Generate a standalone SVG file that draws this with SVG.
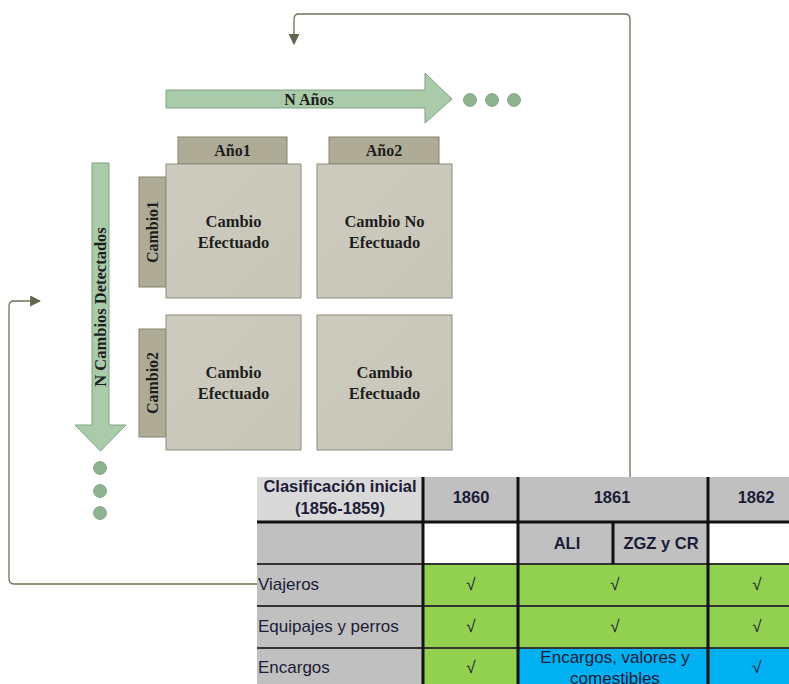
<svg xmlns="http://www.w3.org/2000/svg" width="789" height="684" viewBox="0 0 789 684">
  <defs>
    <linearGradient id="boxFill" x1="0" y1="0" x2="1" y2="1">
      <stop offset="0" stop-color="#CDCBBE"/>
      <stop offset="1" stop-color="#C8C6B7"/>
    </linearGradient>
    <marker id="arrow" viewBox="0 0 10 10" refX="9" refY="5" markerWidth="11" markerHeight="11" markerUnits="userSpaceOnUse" orient="auto">
      <path d="M0,0 L10,5 L0,10 Z" fill="#5F664F"/>
    </marker>
    <style>
      .box { fill: url(#boxFill); stroke: #8E8C7A; stroke-width: 1; }
      .tab { fill: #AEAB97; stroke: #85836F; stroke-width: 1; }
      .flow { fill: #A9CBAA; stroke: #7FA182; stroke-width: 1; }
      .dot { fill: #8FB38F; stroke: #7A9C7B; stroke-width: 0.8; }
      .lbl { font-family: "Liberation Serif", "Times New Roman", serif; font-weight: bold; fill: #1E1E1E; text-anchor: middle; }
      .link { fill: none; stroke: #6E7058; stroke-width: 1.3; }
      .t { font-family: "Liberation Sans", Arial, sans-serif; font-size: 17px; fill: #1C1C38; }
      .tb { font-weight: bold; text-anchor: middle; font-size: 16.5px; }
      .tc { text-anchor: middle; }
      .grid { stroke: #111; stroke-width: 3; }
      .row { stroke: #333; stroke-width: 2; }
    </style>
  </defs>

  <!-- connectors -->
  <g id="connectors">
    <path class="link" d="M630,477 L630,19 Q630,14 625,14 L299,14 Q294,14 294,19 L294,44" marker-end="url(#arrow)"/>
    <path class="link" d="M257,584 L14,584 Q9,584 9,579 L9,306 Q9,301 14,301 L40,301" marker-end="url(#arrow)"/>
  </g>

  <!-- horizontal axis arrow -->
  <g id="n-anios">
    <path class="flow" d="M166,90 L425,90 L425,73 L452,99 L425,123 L425,108 L166,108 Z"/>
    <text class="lbl" x="309" y="105" font-size="16">N Años</text>
    <circle class="dot" cx="470" cy="100" r="6.5"/>
    <circle class="dot" cx="492" cy="100" r="6.5"/>
    <circle class="dot" cx="514" cy="100" r="6.5"/>
  </g>

  <!-- vertical axis arrow -->
  <g id="n-cambios">
    <path class="flow" d="M92,163 L109,163 L109,425 L126,425 L100.5,451 L75,425 L92,425 Z"/>
    <text class="lbl" font-size="16.5" transform="translate(106,307) rotate(-90)">N Cambios Detectados</text>
    <circle class="dot" cx="100" cy="468" r="6.5"/>
    <circle class="dot" cx="100" cy="491" r="6.5"/>
    <circle class="dot" cx="100" cy="513" r="6.5"/>
  </g>

  <!-- column headers -->
  <g id="anio1">
    <rect class="tab" x="178" y="137" width="109" height="27"/>
    <text class="lbl" x="232.5" y="156" font-size="16">Año1</text>
  </g>
  <g id="anio2">
    <rect class="tab" x="329" y="137" width="110" height="27"/>
    <text class="lbl" x="384" y="156" font-size="16">Año2</text>
  </g>

  <!-- row headers -->
  <g id="cambio1">
    <rect class="tab" x="139" y="177" width="27" height="110"/>
    <text class="lbl" font-size="16" transform="translate(158,232) rotate(-90)">Cambio1</text>
  </g>
  <g id="cambio2">
    <rect class="tab" x="139" y="329" width="27" height="108"/>
    <text class="lbl" font-size="16" transform="translate(158,383) rotate(-90)">Cambio2</text>
  </g>

  <!-- matrix cells -->
  <g id="celda-1-1">
    <rect class="box" x="166" y="164" width="135" height="134"/>
    <text class="lbl" x="233.5" y="227" font-size="16.5">Cambio</text>
    <text class="lbl" x="233.5" y="248" font-size="16.5">Efectuado</text>
  </g>
  <g id="celda-1-2">
    <rect class="box" x="317" y="164" width="135" height="134"/>
    <text class="lbl" x="384.5" y="227" font-size="16.5">Cambio No</text>
    <text class="lbl" x="384.5" y="248" font-size="16.5">Efectuado</text>
  </g>
  <g id="celda-2-1">
    <rect class="box" x="166" y="315" width="135" height="135"/>
    <text class="lbl" x="233.5" y="378" font-size="16.5">Cambio</text>
    <text class="lbl" x="233.5" y="399" font-size="16.5">Efectuado</text>
  </g>
  <g id="celda-2-2">
    <rect class="box" x="317" y="315" width="135" height="135"/>
    <text class="lbl" x="384.5" y="378" font-size="16.5">Cambio</text>
    <text class="lbl" x="384.5" y="399" font-size="16.5">Efectuado</text>
  </g>

  <!-- classification table -->
  <g id="tabla">
    <!-- header row -->
    <rect x="257" y="477" width="166" height="45" fill="#D9D9D9"/>
    <rect x="423" y="477" width="366" height="45" fill="#C0C0C0"/>
    <!-- sub-header row -->
    <rect x="257" y="522" width="166" height="42" fill="#C0C0C0"/>
    <rect x="423" y="522" width="95" height="42" fill="#FFFFFF"/>
    <rect x="518" y="522" width="190" height="42" fill="#C0C0C0"/>
    <rect x="708" y="522" width="81" height="42" fill="#FFFFFF"/>
    <!-- body rows -->
    <rect x="257" y="564" width="166" height="120" fill="#C0C0C0"/>
    <rect x="423" y="564" width="366" height="84" fill="#92D050"/>
    <rect x="423" y="648" width="95" height="36" fill="#92D050"/>
    <rect x="518" y="648" width="271" height="36" fill="#00B0F0"/>

    <!-- rules -->
    <line class="row" x1="257" y1="564" x2="789" y2="564"/>
    <line class="row" x1="257" y1="606" x2="789" y2="606"/>
    <line class="row" x1="257" y1="648" x2="789" y2="648"/>
    <line class="grid" x1="257" y1="522" x2="789" y2="522"/>
    <line class="grid" x1="423" y1="477" x2="423" y2="684"/>
    <line class="grid" x1="518" y1="477" x2="518" y2="684"/>
    <line class="grid" x1="708" y1="477" x2="708" y2="684"/>
    <line class="grid" x1="613" y1="522" x2="613" y2="564" stroke-width="2.5"/>

    <!-- header texts -->
    <text class="t tb" x="340" y="492">Clasificación inicial</text>
    <text class="t tb" x="340" y="514">(1856-1859)</text>
    <text class="t tb" x="471" y="503">1860</text>
    <text class="t tb" x="612" y="503">1861</text>
    <text class="t tb" x="756" y="503">1862</text>
    <text class="t tb" x="567" y="549">ALI</text>
    <text class="t tb" x="661" y="549">ZGZ y CR</text>

    <!-- body texts -->
    <text class="t" x="258" y="590">Viajeros</text>
    <text class="t" x="258" y="632">Equipajes y perros</text>
    <text class="t" x="258" y="673">Encargos</text>
    <text class="t tc" x="471" y="590">√</text>
    <text class="t tc" x="615" y="590">√</text>
    <text class="t tc" x="757" y="590">√</text>
    <text class="t tc" x="471" y="632">√</text>
    <text class="t tc" x="615" y="632">√</text>
    <text class="t tc" x="757" y="632">√</text>
    <text class="t tc" x="471" y="673">√</text>
    <text class="t tc" x="615" y="663">Encargos, valores y</text>
    <text class="t tc" x="615" y="684">comestibles</text>
    <text class="t tc" x="757" y="673">√</text>
  </g>
</svg>
